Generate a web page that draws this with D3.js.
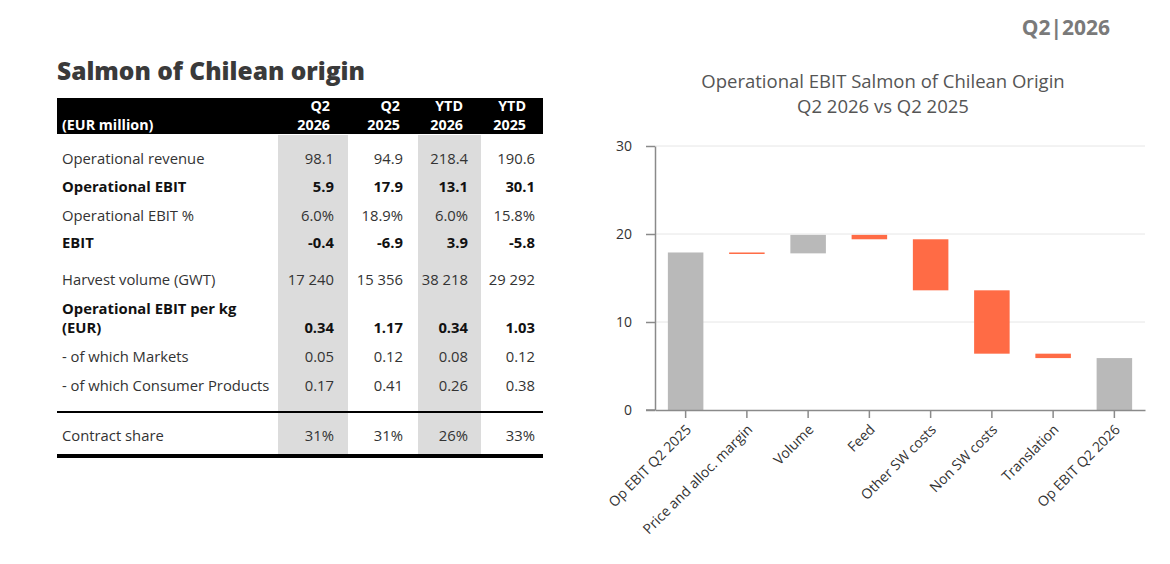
<!DOCTYPE html>
<html>
<head>
<meta charset="utf-8">
<script src="https://cdn.jsdelivr.net/npm/d3@7"></script>
<style>
  body { margin: 0; background: #fff; }
  svg text { font-family: "Open Sans", "Noto Sans", sans-serif; }
</style>
</head>
<body>
<svg id="page" width="1170" height="564"></svg>
<script>
// ---- table data ----
const colHeads = [["Q2", "2026"], ["Q2", "2025"], ["YTD", "2026"], ["YTD", "2025"]];
const rowLabels = [
  ["Operational revenue"],
  ["Operational EBIT"],
  ["Operational EBIT %"],
  ["EBIT"],
  ["Harvest volume (GWT)"],
  ["Operational EBIT per kg", "(EUR)"],
  ["- of which Markets"],
  ["- of which Consumer Products"],
  ["Contract share"]
];
const boldRows = [false, true, false, true, false, true, false, false, false];
const q2_2026 = ["98.1", "5.9", "6.0%", "-0.4", "17 240", "0.34", "0.05", "0.17", "31%"];
const q2_2025 = ["94.9", "17.9", "18.9%", "-6.9", "15 356", "1.17", "0.12", "0.41", "31%"];
const ytd_2026 = ["218.4", "13.1", "6.0%", "3.9", "38 218", "0.34", "0.08", "0.26", "26%"];
const ytd_2025 = ["190.6", "30.1", "15.8%", "-5.8", "29 292", "1.03", "0.12", "0.38", "33%"];

// ---- waterfall data ----
const steps = ["Op EBIT Q2 2025", "Price and alloc. margin", "Volume", "Feed",
  "Other SW costs", "Non SW costs", "Translation", "Op EBIT Q2 2026"];
const deltas = [17.9, -0.1, 2.1, -0.5, -5.8, -7.2, -0.5, 5.9];
const totalSteps = [true, false, false, false, false, false, false, true];
const yTicks = [0, 10, 20, 30];

const svg = d3.select("#page");

// header tag top right
svg.append("text")
  .attr("x", 1110).attr("y", 35)
  .attr("text-anchor", "end")
  .attr("font-size", 21).attr("font-weight", 700)
  .attr("fill", "#7a7a7a")
  .text("Q2|2026");

// ================= TABLE =================
const tLeft = 57, tRight = 543;
const colRight = [334, 403, 468, 535];
const headRight = [330, 400, 463, 526];
const shadeCols = [[278, 348], [418, 481]];
const rowY = [164, 192, 221, 248, 285, 333, 362, 391, 441];

svg.append("text")
  .attr("x", 57).attr("y", 80)
  .attr("font-size", 24.5).attr("font-weight", 800)
  .attr("fill", "#3a3a3a")
  .text("Salmon of Chilean origin");

shadeCols.forEach(c => {
  svg.append("rect")
    .attr("x", c[0]).attr("y", 135)
    .attr("width", c[1] - c[0]).attr("height", 319)
    .attr("fill", "#dcdcdc");
});

svg.append("rect")
  .attr("x", tLeft).attr("y", 98)
  .attr("width", tRight - tLeft).attr("height", 36)
  .attr("fill", "#000");

svg.append("text")
  .attr("x", 62).attr("y", 130)
  .attr("font-size", 14.3).attr("font-weight", 700)
  .attr("fill", "#fff")
  .text("(EUR million)");

const heads = svg.append("g");
colHeads.forEach((h, i) => {
  heads.append("text")
    .attr("x", headRight[i]).attr("y", 111)
    .attr("text-anchor", "end")
    .attr("font-size", 14.3).attr("font-weight", 700).attr("fill", "#fff")
    .text(h[0]);
  heads.append("text")
    .attr("x", headRight[i]).attr("y", 130)
    .attr("text-anchor", "end")
    .attr("font-size", 14.3).attr("font-weight", 700).attr("fill", "#fff")
    .text(h[1]);
});

const cols = [q2_2026, q2_2025, ytd_2026, ytd_2025];
const rows = svg.append("g")
  .selectAll("g")
  .data(rowLabels)
  .join("g");

rows.each(function(lab, r) {
  const g = d3.select(this);
  const w = boldRows[r] ? 700 : 400;
  const col = boldRows[r] ? "#111" : "#333";
  lab.forEach((line, k) => {
    g.append("text")
      .attr("x", 62).attr("y", rowY[r] - (lab.length - 1 - k) * 19)
      .attr("font-size", 14.8).attr("font-weight", w).attr("fill", col)
      .text(line);
  });
  cols.forEach((c, i) => {
    g.append("text")
      .attr("x", colRight[i]).attr("y", rowY[r])
      .attr("text-anchor", "end")
      .attr("font-size", 14.8).attr("font-weight", w).attr("fill", col)
      .text(c[r]);
  });
});

svg.append("line")
  .attr("x1", tLeft).attr("x2", tRight).attr("y1", 412).attr("y2", 412)
  .attr("stroke", "#000").attr("stroke-width", 2);
svg.append("line")
  .attr("x1", tLeft).attr("x2", tRight).attr("y1", 456).attr("y2", 456)
  .attr("stroke", "#000").attr("stroke-width", 4);

// ================= WATERFALL =================
svg.append("text")
  .attr("x", 883).attr("y", 88)
  .attr("text-anchor", "middle")
  .attr("font-size", 18.5).attr("fill", "#555")
  .text("Operational EBIT Salmon of Chilean Origin");
svg.append("text")
  .attr("x", 883).attr("y", 113)
  .attr("text-anchor", "middle")
  .attr("font-size", 18.5).attr("fill", "#555")
  .text("Q2 2026 vs Q2 2025");

const x = d3.scaleBand()
  .domain(steps)
  .range([655, 1145])
  .paddingInner(0.42)
  .paddingOuter(0.21);

const y = d3.scaleLinear()
  .domain([0, 30])
  .range([410, 146]);

// running totals
let run = 0;
const bars = steps.map((s, i) => {
  let lo, hi;
  if (totalSteps[i]) {
    lo = 0; hi = deltas[i]; run = deltas[i];
  } else {
    const next = run + deltas[i];
    lo = Math.min(run, next); hi = Math.max(run, next);
    run = next;
  }
  return { step: s, lo, hi, total: totalSteps[i], delta: deltas[i] };
});

// grid
svg.append("g")
  .selectAll("line")
  .data(yTicks.filter(d => d > 0))
  .join("line")
  .attr("x1", 655).attr("x2", 1145)
  .attr("y1", d => y(d)).attr("y2", d => y(d))
  .attr("stroke", "#e6e6e6").attr("stroke-width", 1);

svg.append("g")
  .selectAll("rect")
  .data(bars)
  .join("rect")
  .attr("x", d => x(d.step))
  .attr("width", x.bandwidth())
  .attr("y", d => y(d.hi))
  .attr("height", d => Math.max(1.5, y(d.lo) - y(d.hi)))
  .attr("fill", d => (d.total || d.delta > 0) ? "#b9b9b9" : "#ff6b45");

const yAxis = svg.append("g")
  .attr("transform", "translate(655,0)")
  .call(d3.axisLeft(y).tickValues(yTicks).tickSize(9).tickSizeOuter(0).tickPadding(14));
yAxis.select(".domain").attr("stroke", "#8a8a8a").attr("stroke-width", 1.5);
yAxis.selectAll(".tick line").attr("stroke", "#8a8a8a").attr("stroke-width", 1.5);
yAxis.selectAll("text")
  .attr("font-size", 14).attr("fill", "#333")
  .style("font-family", "'Open Sans', sans-serif");

const xAxis = svg.append("g")
  .attr("transform", "translate(0,410)")
  .call(d3.axisBottom(x).tickSize(8).tickSizeOuter(0));
xAxis.select(".domain").attr("stroke", "#8a8a8a").attr("stroke-width", 1.5);
xAxis.selectAll(".tick line").attr("stroke", "#8a8a8a").attr("stroke-width", 1.5);
xAxis.selectAll("text")
  .attr("font-size", 14).attr("fill", "#333")
  .style("font-family", "'Open Sans', sans-serif")
  .attr("text-anchor", "end")
  .attr("x", 0).attr("y", 0)
  .attr("dx", 0).attr("dy", "0.35em")
  .attr("transform", "translate(3,17) rotate(-45)");

// extend x axis slightly left under the y-axis
svg.append("line")
  .attr("x1", 646).attr("x2", 655).attr("y1", 410).attr("y2", 410)
  .attr("stroke", "#8a8a8a").attr("stroke-width", 1.5);
</script>
</body>
</html>
